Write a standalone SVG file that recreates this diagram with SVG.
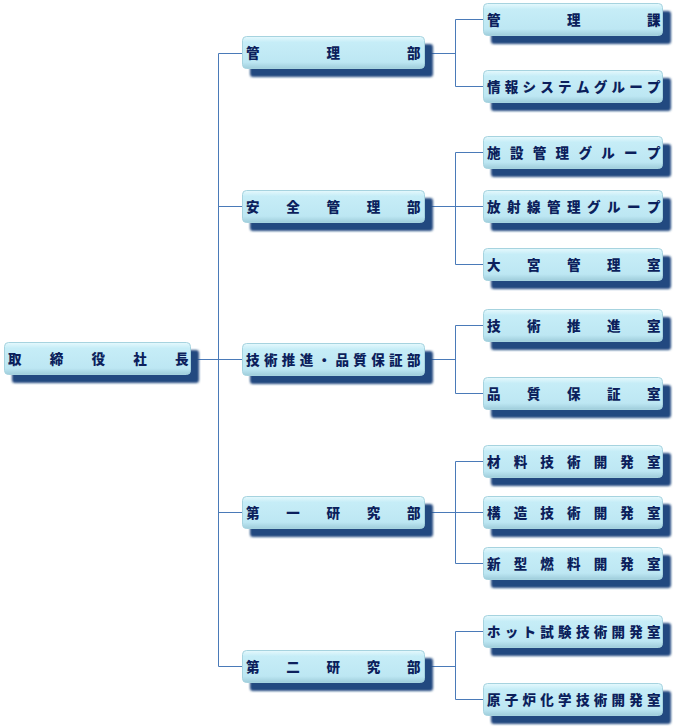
<svg xmlns="http://www.w3.org/2000/svg" width="678" height="728" viewBox="0 0 678 728">
<defs>
<linearGradient id="bg" x1="0" y1="0" x2="0" y2="1">
<stop offset="0" stop-color="#e6f9fd"/>
<stop offset="0.18" stop-color="#c6edf7"/>
<stop offset="0.8" stop-color="#bde7f3"/>
<stop offset="1" stop-color="#9fcddb"/>
</linearGradient>
<filter id="blur" x="-5%" y="-20%" width="110%" height="140%"><feGaussianBlur stdDeviation="0.8"/></filter>
</defs>
<style>
.sh{fill:#224a80;filter:url(#blur)}
.bx{fill:url(#bg);stroke:#a6d3df;stroke-width:1}
.t{font-family:"Noto Sans CJK JP","Noto Sans CJK SC",sans-serif;font-size:13.5px;font-weight:900;fill:#0c1f5c}
.c{fill:none;stroke:#4a7ab8;stroke-width:1}
</style>
<rect width="678" height="728" fill="#ffffff"/>
<g id="connectors">
<path class="c" d="M191 359.5H218.5M218.5 53.5V666.5M218.5 53.5H242M218.5 206.5H242M218.5 359.5H242M218.5 512.5H242M218.5 666.5H242"/>
<path class="c" d="M425 53.5H455.5M455.5 19.5V86.5M455.5 19.5H483M455.5 86.5H483"/>
<path class="c" d="M425 206.5H483M455.5 152.5V264.5M455.5 152.5H483M455.5 264.5H483"/>
<path class="c" d="M425 359.5H455.5M455.5 325.5V393.5M455.5 325.5H483M455.5 393.5H483"/>
<path class="c" d="M425 512.5H483M455.5 461.5V563.5M455.5 461.5H483M455.5 563.5H483"/>
<path class="c" d="M425 666.5H455.5M455.5 631.5V699.5M455.5 631.5H483M455.5 699.5H483"/>
</g>
<g id="ceo">
<rect class="sh" x="12" y="350" width="187" height="33" rx="3"/>
<rect class="bx" x="4.5" y="342.5" width="186" height="32" rx="4"/>
<text class="t" x="8 49.75 91.5 133.25 175" y="364">取締役社長</text>
</g>
<g id="d1">
<rect class="sh" x="250" y="44" width="183" height="33" rx="3"/>
<rect class="bx" x="242.5" y="36.5" width="182" height="32" rx="4"/>
<text class="t" x="246 326.5 407" y="58">管理部</text>
</g>
<g id="d2">
<rect class="sh" x="250" y="198" width="183" height="33" rx="3"/>
<rect class="bx" x="242.5" y="190.5" width="182" height="32" rx="4"/>
<text class="t" x="246 286.25 326.5 366.75 407" y="212">安全管理部</text>
</g>
<g id="d3">
<rect class="sh" x="250" y="351" width="183" height="33" rx="3"/>
<rect class="bx" x="242.5" y="343.5" width="182" height="32" rx="4"/>
<text class="t" x="246 263.9 281.8 299.7 317.6 335.4 353.3 371.2 389.1 407" y="365">技術推進・品質保証部</text>
</g>
<g id="d4">
<rect class="sh" x="250" y="504" width="183" height="33" rx="3"/>
<rect class="bx" x="242.5" y="496.5" width="182" height="32" rx="4"/>
<text class="t" x="246 286.25 326.5 366.75 407" y="518">第一研究部</text>
</g>
<g id="d5">
<rect class="sh" x="250" y="658" width="183" height="33" rx="3"/>
<rect class="bx" x="242.5" y="650.5" width="182" height="32" rx="4"/>
<text class="t" x="246 286.25 326.5 366.75 407" y="672">第二研究部</text>
</g>
<g id="s1">
<rect class="sh" x="491" y="11" width="180" height="33" rx="3"/>
<rect class="bx" x="483.5" y="3.5" width="179" height="32" rx="4"/>
<text class="t" x="487 567 647" y="25">管理課</text>
</g>
<g id="s2">
<rect class="sh" x="491" y="78" width="180" height="33" rx="3"/>
<rect class="bx" x="483.5" y="70.5" width="179" height="32" rx="4"/>
<text class="t" x="487 504.8 522.6 540.3 558.1 575.9 593.7 611.4 629.2 647" y="92">情報システムグループ</text>
</g>
<g id="s3">
<rect class="sh" x="491" y="144" width="180" height="33" rx="3"/>
<rect class="bx" x="483.5" y="136.5" width="179" height="32" rx="4"/>
<text class="t" x="487 509.9 532.7 555.6 578.4 601.3 624.1 647" y="158">施設管理グループ</text>
</g>
<g id="s4">
<rect class="sh" x="491" y="198" width="180" height="33" rx="3"/>
<rect class="bx" x="483.5" y="190.5" width="179" height="32" rx="4"/>
<text class="t" x="487 507 527 547 567 587 607 627 647" y="212">放射線管理グループ</text>
</g>
<g id="s5">
<rect class="sh" x="491" y="256" width="180" height="33" rx="3"/>
<rect class="bx" x="483.5" y="248.5" width="179" height="32" rx="4"/>
<text class="t" x="487 527 567 607 647" y="270">大宮管理室</text>
</g>
<g id="s6">
<rect class="sh" x="491" y="317" width="180" height="33" rx="3"/>
<rect class="bx" x="483.5" y="309.5" width="179" height="32" rx="4"/>
<text class="t" x="487 527 567 607 647" y="331">技術推進室</text>
</g>
<g id="s7">
<rect class="sh" x="491" y="385" width="180" height="33" rx="3"/>
<rect class="bx" x="483.5" y="377.5" width="179" height="32" rx="4"/>
<text class="t" x="487 527 567 607 647" y="399">品質保証室</text>
</g>
<g id="s8">
<rect class="sh" x="491" y="453" width="180" height="33" rx="3"/>
<rect class="bx" x="483.5" y="445.5" width="179" height="32" rx="4"/>
<text class="t" x="487 513.7 540.3 567 593.7 620.3 647" y="467">材料技術開発室</text>
</g>
<g id="s9">
<rect class="sh" x="491" y="504" width="180" height="33" rx="3"/>
<rect class="bx" x="483.5" y="496.5" width="179" height="32" rx="4"/>
<text class="t" x="487 513.7 540.3 567 593.7 620.3 647" y="518">構造技術開発室</text>
</g>
<g id="s10">
<rect class="sh" x="491" y="555" width="180" height="33" rx="3"/>
<rect class="bx" x="483.5" y="547.5" width="179" height="32" rx="4"/>
<text class="t" x="487 513.7 540.3 567 593.7 620.3 647" y="569">新型燃料開発室</text>
</g>
<g id="s11">
<rect class="sh" x="491" y="623" width="180" height="33" rx="3"/>
<rect class="bx" x="483.5" y="615.5" width="179" height="32" rx="4"/>
<text class="t" x="487 504.8 522.6 540.3 558.1 575.9 593.7 611.4 629.2 647" y="637">ホット試験技術開発室</text>
</g>
<g id="s12">
<rect class="sh" x="491" y="691" width="180" height="33" rx="3"/>
<rect class="bx" x="483.5" y="683.5" width="179" height="32" rx="4"/>
<text class="t" x="487 504.8 522.6 540.3 558.1 575.9 593.7 611.4 629.2 647" y="705">原子炉化学技術開発室</text>
</g>
</svg>
